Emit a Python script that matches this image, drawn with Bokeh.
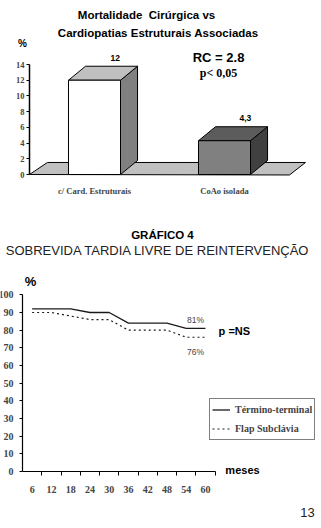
from bokeh.plotting import figure
from bokeh.layouts import column
from bokeh.models import Range1d, FixedTicker, Label, Legend, LegendItem
from bokeh.embed import file_html
from bokeh.resources import INLINE

# ---------------- data ----------------
categories = ["c/ Card. Estruturais", "CoAo isolada"]
mortality = [12, 4.3]
mortality_labels = ["12", "4,3"]
y_ticks_top = [0, 2, 4, 6, 8, 10, 12, 14]

months = [6, 12, 18, 24, 30, 36, 42, 48, 54, 60]
termino_terminal = [92, 92, 92, 90, 90, 84, 84, 84, 81, 81]
flap_subclavia = [90, 90, 88, 86, 86, 80, 80, 80, 76, 76]
y_ticks_bottom = [0, 10, 20, 30, 40, 50, 60, 70, 80, 90, 100]
end_labels = ["81%", "76%"]

SANS = "Liberation Sans"
SERIF = "Liberation Serif"


def base_fig(w, h, xr, yr):
    p = figure(width=w, height=h, output_backend="svg", toolbar_location=None,
               x_range=Range1d(*xr), y_range=Range1d(*yr),
               min_border_left=0, min_border_right=0, min_border_top=0, min_border_bottom=0)
    p.grid.visible = False
    p.outline_line_color = None
    p.background_fill_color = "white"
    p.border_fill_color = "white"
    return p


def lab(p, x, y, text, size, font=SANS, style="bold", align="center", color="black"):
    p.add_layout(Label(x=x, y=y, text=text, text_font=font, text_font_style=style,
                       text_font_size=size, text_align=align, text_baseline="middle",
                       text_color=color))


# ---------------- top chart ----------------
p1 = base_fig(321, 200, (-0.723, 1.746), (-3.309, 22.146))

bw, ddx, ddy = 0.4, 0.131, 1.78
front_col = ["#ffffff", "#808080"]
top_col = ["#c0c0c0", "#5c5c5c"]
side_col = ["#808080", "#404040"]

# floor
p1.patch([-0.5, -0.362, 1.623, 1.5], [0, 1.53, 1.53, -0.06],
         fill_color="#c0c0c0", line_color="black", line_width=1)

fx, fy, tx, ty, sx, sy = [], [], [], [], [], []
for i, v in enumerate(mortality):
    x0, x1 = i - bw / 2, i + bw / 2
    fx.append([x0, x1, x1, x0]); fy.append([0, 0, v, v])
    tx.append([x0, x1, x1 + ddx, x0 + ddx]); ty.append([v, v, v + ddy, v + ddy])
    sx.append([x1, x1 + ddx, x1 + ddx, x1]); sy.append([0, ddy, v + ddy, v])
p1.patches(sx, sy, fill_color=side_col, line_color="black", line_width=1)
p1.patches(tx, ty, fill_color=top_col, line_color="black", line_width=1)
p1.patches(fx, fy, fill_color=front_col, line_color="black", line_width=1)

for i, (v, t) in enumerate(zip(mortality, mortality_labels)):
    lab(p1, i + 0.16, v + ddy + 1.1, t, "8.5px")

yax = p1.yaxis[0]
yax.fixed_location = -0.5
yax.ticker = FixedTicker(ticks=y_ticks_top)
yax.bounds = (0, 14)
yax.axis_line_width = 1.5
yax.major_tick_out = 3
yax.major_tick_in = 0
yax.minor_tick_line_color = None
yax.major_label_standoff = 2
yax.major_label_text_font = SERIF
yax.major_label_text_font_style = "bold"
yax.major_label_text_font_size = "8.5px"

xax = p1.xaxis[0]
xax.fixed_location = -0.255
xax.ticker = FixedTicker(ticks=list(range(len(categories))))
xax.major_label_overrides = {i: c for i, c in enumerate(categories)}
xax.axis_line_color = None
xax.major_tick_line_color = None
xax.minor_tick_line_color = None
xax.major_label_standoff = 3
xax.major_label_text_font = SERIF
xax.major_label_text_font_style = "bold"
xax.major_label_text_font_size = "8.5px"

lab(p1, 0.40, 20.24, "Mortalidade\u00a0 Cirúrgica vs", "11.5px")
lab(p1, 0.49, 17.95, "Cardiopatias Estruturais Associadas", "11.5px")
lab(p1, 0.954, 14.89, "RC = 2.8", "13px")
lab(p1, 0.954, 12.98, "p< 0,05", "12px", font=SERIF)
lab(p1, -0.554, 16.67, "%", "10px")

# ---------------- bottom chart ----------------
p2 = base_fig(321, 328, (-3.854, 96.15), (-32.26, 153.4))

r1 = p2.line(months, termino_terminal, line_color="#1a1a1a", line_width=1.3)
r2 = p2.line(months, flap_subclavia, line_color="#1a1a1a", line_width=1.2, line_dash="2 3")

legend = Legend(items=[LegendItem(label="Término-terminal", renderers=[r1]),
                       LegendItem(label="Flap Subclávia", renderers=[r2])],
                location=(209, 88), padding=2, spacing=2, margin=0,
                label_height=17, glyph_height=17, glyph_width=18, label_standoff=5,
                border_line_color="black", border_line_width=1,
                background_fill_color="white", background_fill_alpha=1,
                label_text_font=SERIF, label_text_font_style="bold",
                label_text_font_size="10px")
p2.add_layout(legend)

yax2 = p2.yaxis[0]
yax2.fixed_location = 3
yax2.ticker = FixedTicker(ticks=y_ticks_bottom)
yax2.bounds = (0, 100)
yax2.axis_line_width = 1.2
yax2.major_tick_out = 3
yax2.major_tick_in = 0
yax2.minor_tick_line_color = None
yax2.major_label_standoff = 6
yax2.major_label_text_font = SERIF
yax2.major_label_text_font_style = "bold"
yax2.major_label_text_font_size = "10px"

boundaries = [m + 3 for m in months]
xax2 = p2.xaxis[0]
xax2.fixed_location = 0
xax2.ticker = FixedTicker(ticks=months, minor_ticks=boundaries)
xax2.bounds = (3, 63)
xax2.axis_line_width = 1.2
xax2.major_tick_out = 0
xax2.major_tick_in = 0
xax2.minor_tick_out = 4
xax2.minor_tick_in = 0
xax2.major_label_standoff = 10
xax2.major_label_text_font = SERIF
xax2.major_label_text_font_style = "bold"
xax2.major_label_text_font_size = "10px"

lab(p2, 46.6, 133.6, "GRÁFICO 4", "11.5px")
lab(p2, 45.2, 125.1, "SOBREVIDA TARDIA LIVRE DE REINTERVENÇÃO", "13px", style="normal", color="#222222")
lab(p2, 5.5, 107.5, "%", "13px")
lab(p2, 56.9, termino_terminal[-1] + 4.5, end_labels[0], "8.5px", style="normal", color="#444444")
lab(p2, 56.9, flap_subclavia[-1] - 8.1, end_labels[1], "8.5px", style="normal", color="#444444")
lab(p2, 64.1, 79.8, "p =NS", "11px", align="left")
lab(p2, 66.2, 0.6, "meses", "11px", align="left")
lab(p2, 91.8, -23.2, "13", "13px", style="normal", color="#222222")

layout = column(p1, p2, spacing=0)
open("out.html", "w").write(file_html(layout, INLINE))
